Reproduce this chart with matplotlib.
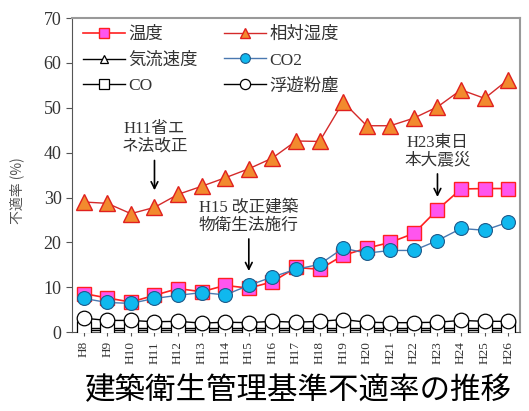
import matplotlib
matplotlib.use("Agg")
import matplotlib.pyplot as plt

plt.rcParams['font.family'] = ['Liberation Serif', 'Noto Sans CJK JP']

years = ["H8", "H9", "H10", "H11", "H12", "H13", "H14", "H15", "H16", "H17",
         "H18", "H19", "H20", "H21", "H22", "H23", "H24", "H25", "H26"]
temperature = [8.6, 7.6, 6.7, 8.2, 9.7, 9.0, 10.4, 9.8, 11.2, 14.4,
               14.0, 17.1, 18.7, 20.0, 22.0, 27.3, 31.9, 32.0, 32.0]
rel_humidity = [29.0, 28.7, 26.4, 27.8, 30.7, 32.5, 34.4, 36.4, 38.8, 42.6,
                42.5, 51.3, 46.0, 46.0, 47.7, 50.2, 54.0, 52.1, 56.3]
airflow = [0.5, 0.5, 0.5, 0.5, 0.5, 0.5, 0.5, 0.5, 0.5, 0.5,
           0.5, 0.5, 0.5, 0.5, 0.5, 0.5, 0.5, 0.5, 0.5]
co2 = [7.5, 6.6, 6.4, 7.5, 8.2, 8.8, 8.3, 10.4, 12.3, 14.0,
       15.1, 18.7, 17.6, 18.2, 18.2, 20.4, 23.1, 22.7, 24.5]
co = [0.9, 0.9, 0.9, 0.9, 0.9, 0.9, 0.9, 0.9, 0.9, 0.9,
      0.9, 0.9, 0.9, 0.9, 0.9, 0.9, 0.9, 0.9, 0.9]
dust = [3.1, 2.6, 2.6, 2.3, 2.4, 2.0, 2.2, 2.1, 2.4, 2.2,
        2.4, 2.8, 2.2, 2.1, 2.1, 2.2, 2.6, 2.4, 2.4]

fig = plt.figure(figsize=(5.29, 4.11), dpi=100)
ax = fig.add_axes([0.136, 0.192, 0.847, 0.764])
x = list(range(len(years)))

ax.plot(x, airflow, color='black', lw=1.0, marker='^', ms=8,
        mfc='white', mec='black', mew=0.9, label='気流速度', zorder=3)
ax.plot(x, co, color='black', lw=1.0, marker='s', ms=10,
        mfc='white', mec='black', mew=0.9, label='CO', zorder=3)
ax.plot(x, dust, color='black', lw=1.0, marker='o', ms=10.5,
        mfc='white', mec='black', mew=0.9, label='浮遊粉塵', zorder=4)
ax.plot(x, rel_humidity, color='#D42A2A', lw=1.0, marker='^', ms=11,
        mfc='#F28A2E', mec='#E0201E', mew=1.0, label='相対湿度', zorder=5)
ax.plot(x, temperature, color='#FF2020', lw=1.2, marker='s', ms=10,
        mfc='#FF55EE', mec='#FF2020', mew=1.0, label='温度', zorder=5)
ax.plot(x, co2, color='#4A78B0', lw=1.0, marker='o', ms=10,
        mfc='#10B8EE', mec='#1F5A8A', mew=0.8, label='CO2', zorder=6)

ax.set_xlim(-0.5, len(years) - 0.5)
ax.set_ylim(0, 70)
ax.set_yticks(range(0, 71, 10))
ax.set_xticks(x)
ax.set_xticklabels(years, rotation=90, fontsize=9.5, color='#333333')
ax.tick_params(axis='y', labelsize=13, direction='out', length=4, color='#555555', labelcolor='#333333')
ax.tick_params(axis='x', direction='out', length=3, color='#555555')
for s in ['top', 'right']:
    ax.spines[s].set_color('#999999')
    ax.spines[s].set_linewidth(1.5)
ax.spines['left'].set_color('#555555')
ax.spines['bottom'].set_color('#555555')

ax.set_ylabel('不適率 (%)', family=['Noto Sans CJK JP'], fontsize=10, color='#555555')
ax.yaxis.set_label_coords(-0.106, 0.45)

handles, labels = ax.get_legend_handles_labels()
order = ['温度', '気流速度', 'CO', '相対湿度', 'CO2', '浮遊粉塵']
hmap = dict(zip(labels, handles))
leg = ax.legend([hmap[k] for k in order], order, ncol=2, loc='upper left',
                frameon=False, markerscale=0.7, handlelength=2.4, columnspacing=1.5,
                handletextpad=0.2, labelspacing=0.55, borderaxespad=0.0,
                bbox_to_anchor=(0.01, 0.995),
                prop={'family': ['Liberation Serif', 'Noto Sans CJK JP'], 'size': 12.5})
for t in leg.get_texts():
    t.set_color('#333333')

ann_kw = dict(ha='center', va='bottom', fontsize=12, color='#333333', linespacing=1.15,
              arrowprops=dict(arrowstyle='->', color='black', lw=1.2))
ax.annotate('H11省エ\nネ法改正', xy=(3, 31.0), xytext=(3, 39.5), **ann_kw)
ax.annotate('H15 改正建築\n物衛生法施行', xy=(7, 13.0), xytext=(7, 22.0), **ann_kw)
ax.annotate('H23東日\n本大震災', xy=(15, 29.5), xytext=(15, 36.5), **ann_kw)

fig.text(0.565, 0.05, '建築衛生管理基準不適率の推移', ha='center', va='center',
         fontsize=22, family=['Noto Sans CJK JP'], color='black')

fig.savefig('out.png', dpi=100)
